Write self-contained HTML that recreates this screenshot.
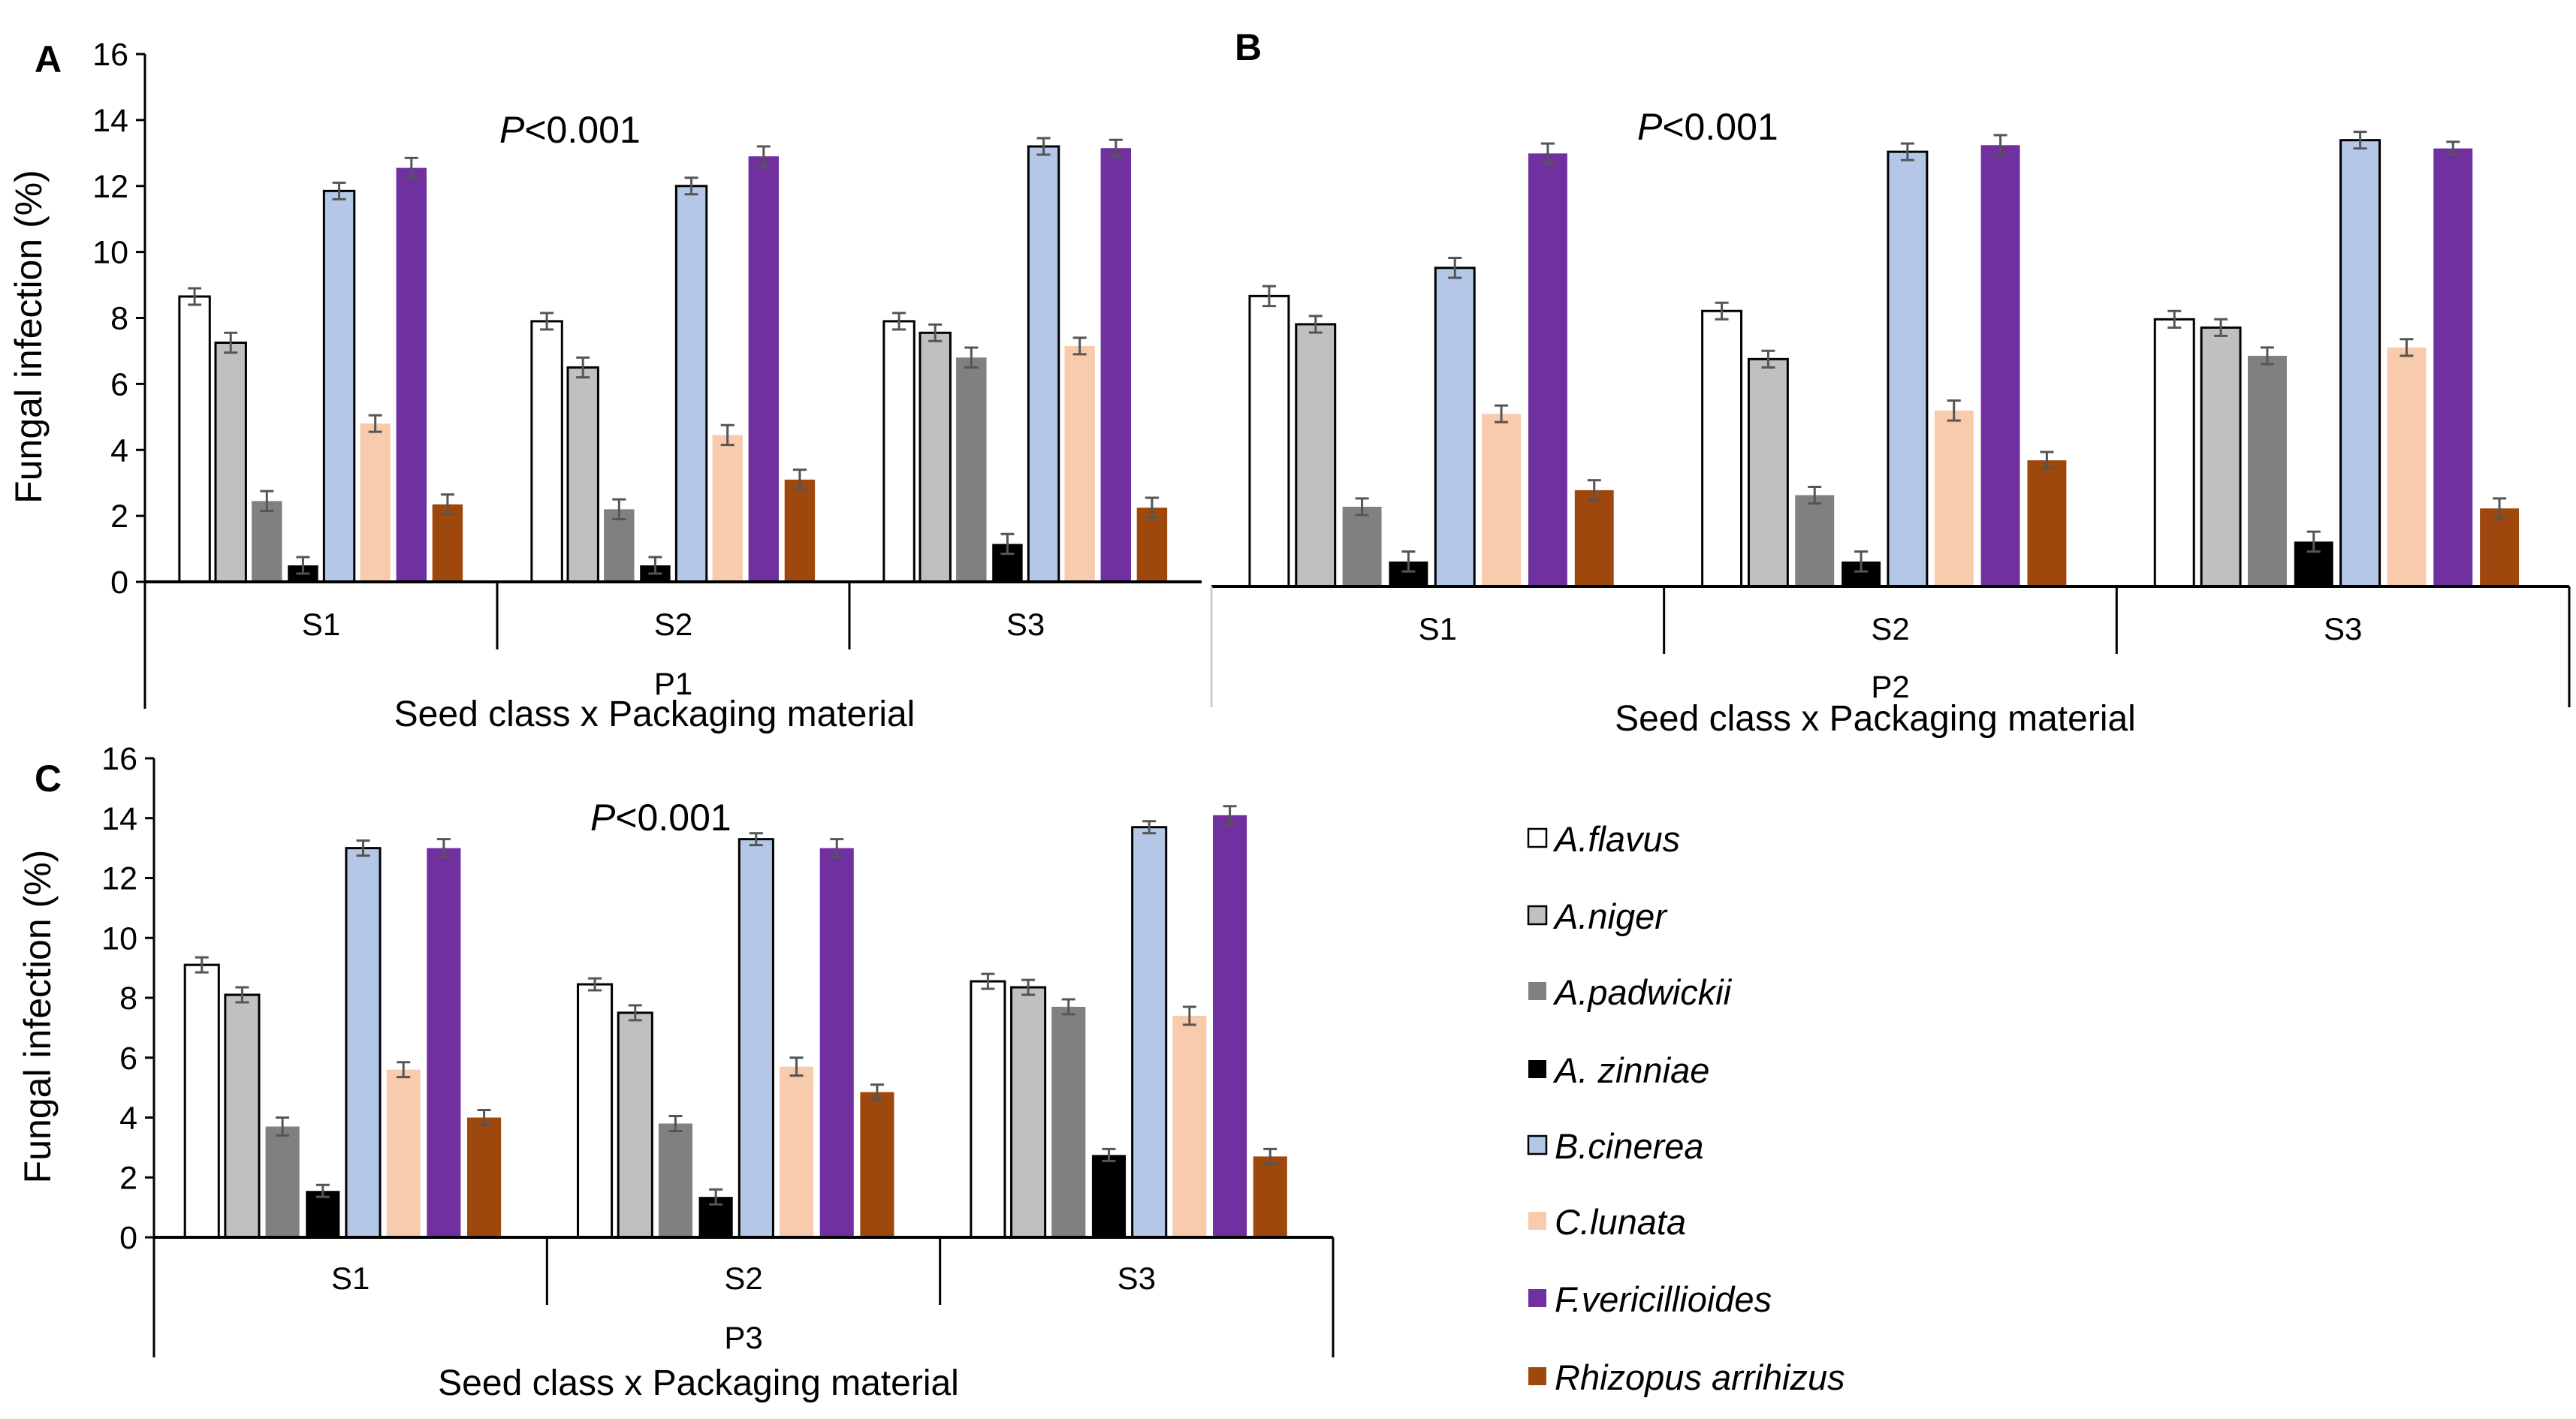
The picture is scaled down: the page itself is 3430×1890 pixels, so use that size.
<!DOCTYPE html>
<html><head><meta charset="utf-8"><style>
html,body{margin:0;padding:0;background:#fff;}
svg{display:block;font-family:"Liberation Sans",Arial,sans-serif;}
</style></head><body>
<svg id="fig" width="3430" height="1890" viewBox="0 0 3430 1890"></svg>
<script>
const species = ["A.flavus","A.niger","A.padwickii","A. zinniae","B.cinerea","C.lunata","F.vericillioides","Rhizopus arrihizus"];
const seedClasses = ["S1","S2","S3"];
const yTicks = [0,2,4,6,8,10,12,14,16];
const valuesA = [[8.65,7.25,2.45,0.5,11.85,4.8,12.55,2.35],[7.9,6.5,2.2,0.5,12.0,4.45,12.9,3.1],[7.9,7.55,6.8,1.15,13.2,7.15,13.15,2.25]];
const valuesB = [[8.75,7.9,2.4,0.75,9.6,5.2,13.05,2.9],[8.3,6.85,2.75,0.75,13.1,5.3,13.3,3.8],[8.05,7.8,6.95,1.35,13.45,7.2,13.2,2.35]];
const valuesC = [[9.1,8.1,3.7,1.55,13.0,5.6,13.0,4.0],[8.45,7.5,3.8,1.35,13.3,5.7,13.0,4.85],[8.55,8.35,7.7,2.75,13.7,7.4,14.1,2.7]];
const errA = [[0.25,0.3,0.3,0.25,0.25,0.25,0.3,0.3],[0.25,0.3,0.3,0.25,0.25,0.3,0.3,0.3],[0.25,0.25,0.3,0.3,0.25,0.25,0.25,0.3]];
const errB = [[0.3,0.25,0.25,0.3,0.3,0.25,0.3,0.3],[0.25,0.25,0.25,0.3,0.25,0.3,0.3,0.25],[0.25,0.25,0.25,0.3,0.25,0.25,0.2,0.3]];
const errC = [[0.25,0.25,0.3,0.2,0.25,0.25,0.3,0.25],[0.2,0.25,0.25,0.25,0.2,0.3,0.3,0.25],[0.25,0.25,0.25,0.2,0.2,0.3,0.3,0.25]];
const colors = ["#ffffff","#c0c0c0","#808080","#000000","#b4c7e7","#f8cbad","#7030a0","#9e480e"];
const borders = [true,true,false,false,true,false,false,false];
const NS="http://www.w3.org/2000/svg";
const svg=document.getElementById('fig');
function mk(tag,attrs,parent,text){const e=document.createElementNS(NS,tag);for(const k in attrs)e.setAttribute(k,attrs[k]);if(text!==undefined)e.textContent=text;(parent||svg).appendChild(e);return e;}

function panel(cfg){
  const g=mk('g',{});
  
  
  const y=v=>cfg.y0-(cfg.y0-cfg.y16)*v/16;
  const W=(cfg.x1-cfg.x0)/3;
  if(cfg.showY){
    const ax=mk('line',{x1:cfg.x0,y1:y(16),x2:cfg.x0,y2:cfg.y0,stroke:'#000','stroke-width':3},g);
    
    
    yTicks.forEach(t=>{
      mk('line',{x1:cfg.x0-12,y1:y(t),x2:cfg.x0,y2:y(t),stroke:'#000','stroke-width':3},g);
      const tl=mk('text',{x:cfg.x0-22,y:y(t)+15,'text-anchor':'end','font-size':43,fill:'#000'},g,String(t));
      
      
    });
    const cy=(y(16)+cfg.y0)/2+25;
    const yt=mk('text',{x:0,y:0,'text-anchor':'middle','font-size':50,transform:`translate(${cfg.x0-138},${cy}) rotate(-90)`},g,'Fungal infection (%)');
    
    
  }
  cfg.vals.forEach((grp,gi)=>{
    const gx=cfg.x0+gi*W;
    const pitch=W*0.1026, bw=pitch*0.84, off=(W-8*pitch)/2+(pitch-bw)/2;
    grp.forEach((v,si)=>{
      const bx=gx+off+si*pitch-cfg.shift;
      const r=mk('rect',{x:bx,y:y(v),width:bw,height:cfg.y0-y(v),fill:colors[si],stroke:borders[si]?'#000':'none','stroke-width':3},g);
      
      
      const e=cfg.err[gi][si], cx=bx+bw/2;
      const eb=mk('path',{d:`M${cx},${y(v+e)}V${y(v-e)}M${cx-9},${y(v+e)}H${cx+9}M${cx-9},${y(v-e)}H${cx+9}`,stroke:'#555','stroke-width':3,fill:'none'},g);
      
      
    });
    const sl=mk('text',{x:gx+W/2,y:cfg.sY,'text-anchor':'middle','font-size':42},g,seedClasses[gi]);
    
    
    if(gi>0) mk('line',{x1:gx,y1:cfg.y0,x2:gx,y2:cfg.y0+90,stroke:'#000','stroke-width':3},g);
  });
  const bl=mk('line',{x1:cfg.x0,y1:cfg.y0,x2:cfg.x1,y2:cfg.y0,stroke:'#000','stroke-width':4},g);
  
  
  mk('line',{x1:cfg.x0,y1:cfg.y0,x2:cfg.x0,y2:cfg.lowY,stroke:cfg.showY?'#000':'#ccc','stroke-width':3},g);
  if(cfg.rightLine) mk('line',{x1:cfg.x1,y1:cfg.y0,x2:cfg.x1,y2:cfg.lowY,stroke:'#000','stroke-width':3},g);
  const pl=mk('text',{x:(cfg.x0+cfg.x1)/2,y:cfg.pY,'text-anchor':'middle','font-size':42},g,cfg.pl);
  
  
  const xt=mk('text',{x:(cfg.x0+cfg.x1)/2-cfg.tShift,y:cfg.tY,'text-anchor':'middle','font-size':48},g,'Seed class x Packaging material');
  
  
  const pv=mk('text',{x:cfg.pvX,y:cfg.pvY,'font-size':50},g);
  
  
  mk('tspan',{'font-style':'italic'},pv,'P');
  mk('tspan',{},pv,'<0.001');
  const lt=mk('text',{x:cfg.lx,y:cfg.ly,'font-size':50,'font-weight':'bold'},g,cfg.id);
  
  
}

panel({id:'A',vals:valuesA,err:errA,x0:193,x1:1600,y0:775,y16:72,showY:true,sY:846,pY:925,tY:967,lowY:944,pl:'P1',pvX:665,pvY:190,lx:46,ly:96,rightLine:false,shift:0,tShift:25});
panel({id:'B',vals:valuesB,err:errB,x0:1613,x1:3421,y0:781,y16:74,showY:false,sY:852,pY:929,tY:973,lowY:942,pl:'P2',pvX:2180,pvY:186,lx:1644,ly:80,rightLine:true,shift:8,tShift:20});
panel({id:'C',vals:valuesC,err:errC,x0:205,x1:1775,y0:1648,y16:1010,showY:true,sY:1717,pY:1796,tY:1858,lowY:1808,pl:'P3',pvX:786,pvY:1106,lx:46,ly:1054,rightLine:true,shift:10,tShift:60});

const legY=[1118,1221,1322,1426,1527,1628,1731,1835];
const lg=mk('g',{});


species.forEach((s,i)=>{
  const r=mk('rect',{x:2035,y:legY[i]-14,width:24,height:24,fill:colors[i],stroke:borders[i]?'#000':'none','stroke-width':2.5},lg);
  
  
  const t=mk('text',{x:2070,y:legY[i]+16,'font-size':47,'font-style':'italic'},lg,s);
  
  
});
</script>
</body></html>
